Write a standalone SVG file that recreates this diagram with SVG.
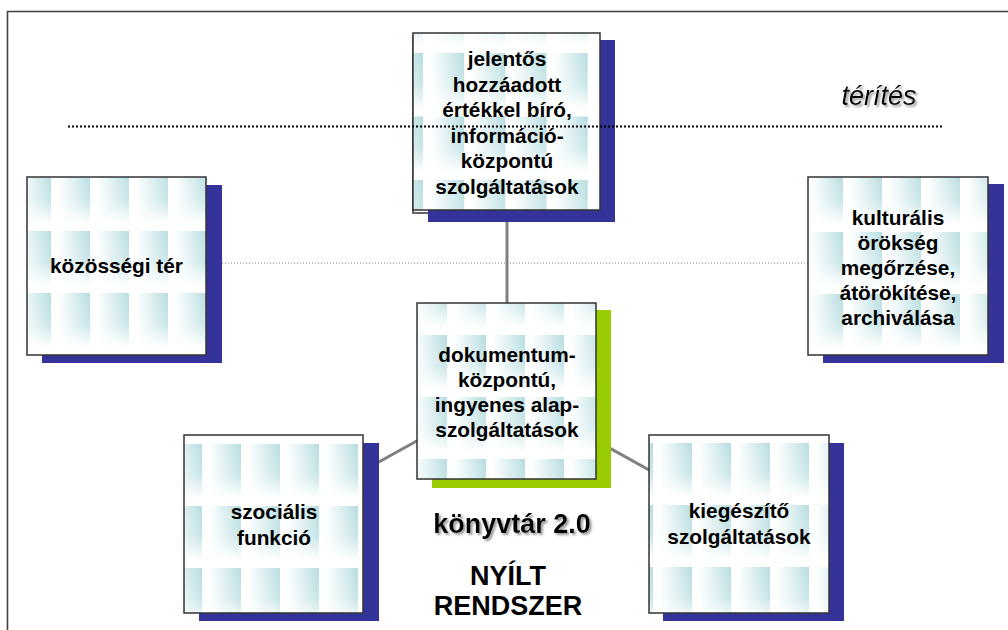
<svg xmlns="http://www.w3.org/2000/svg" xmlns:xlink="http://www.w3.org/1999/xlink" width="1008" height="630" viewBox="0 0 1008 630">
<style>
.card{stroke:#333;stroke-width:1.5}
.sh{fill:#333399}
.shg{fill:#99cc00}
.t{font-family:"Liberation Sans",Arial,sans-serif;font-weight:bold;font-size:20.8px;fill:#000;text-anchor:middle}
.big{font-family:"Liberation Sans",Arial,sans-serif;font-weight:bold;font-size:27px;fill:#000;text-anchor:middle}
.it{font-family:"Liberation Sans",Arial,sans-serif;font-style:italic;font-size:27px;fill:#000;text-anchor:middle}
.con{stroke:#808080;stroke-width:3;fill:none}
</style>
<defs>
<linearGradient id="gh" x1="0" y1="0" x2="1" y2="0">
<stop offset="0" stop-color="#fff"/>
<stop offset="0.2" stop-color="#fdfefe"/>
<stop offset="1" stop-color="#b7dde0"/>
</linearGradient>
<linearGradient id="gv" x1="0" y1="0" x2="0" y2="1">
<stop offset="0" stop-color="#fff" stop-opacity="0"/>
<stop offset="0.5" stop-color="#fff" stop-opacity="0.25"/>
<stop offset="0.88" stop-color="#fff" stop-opacity="1"/>
<stop offset="1" stop-color="#fff" stop-opacity="1"/>
</linearGradient>
<pattern id="tile" patternUnits="userSpaceOnUse" width="39" height="62">
<rect width="39" height="62" fill="url(#gh)"/>
<rect width="39" height="62" fill="url(#gv)"/>
</pattern>
<pattern id="pL" xlink:href="#tile" x="51" y="169"/>
<pattern id="pT" xlink:href="#tile" patternTransform="translate(423,53) scale(1.056,1.024)"/>
<pattern id="pR" xlink:href="#tile" x="843" y="170"/>
<pattern id="pC" xlink:href="#tile" x="447" y="273"/>
<pattern id="pBL" xlink:href="#tile" x="202" y="444"/>
<pattern id="pBR" xlink:href="#tile" x="653" y="443"/>
<filter id="ds" x="-10%" y="-20%" width="130%" height="160%">
<feDropShadow dx="2" dy="2" stdDeviation="0.8" flood-color="#9a9a9a" flood-opacity="1"/>
</filter>
</defs>

<rect width="1008" height="630" fill="#fff"/>
<path d="M7.5,630 V11.5 H1008" fill="none" stroke="#404040" stroke-width="1.6"/>

<g id="connectors">
<line class="con" x1="507" y1="210" x2="507" y2="391"/>
<line class="con" x1="274" y1="520" x2="507" y2="391"/>
<line class="con" x1="739" y1="520" x2="507" y2="391"/>
<line x1="222" y1="263" x2="808" y2="263" stroke="#808080" stroke-width="1" stroke-dasharray="1 2"/>
</g>

<g id="node-top">
<rect class="card" x="413" y="36" width="184" height="177" fill="#fff"/>
<rect class="sh" x="428" y="40" width="187" height="182"/>
<rect class="card" x="413" y="33" width="187" height="177" fill="url(#pT)"/>
<text class="t" x="507" y="66">jelentős</text>
<text class="t" x="507" y="91.5">hozzáadott</text>
<text class="t" x="507" y="117">értékkel bíró,</text>
<text class="t" x="507" y="142.5">információ-</text>
<text class="t" x="507" y="168">központú</text>
<text class="t" x="507" y="193.5">szolgáltatások</text>
</g>

<g id="node-left">
<rect class="sh" x="42" y="185" width="180" height="178"/>
<rect class="card" x="27" y="177" width="179" height="178" fill="url(#pL)"/>
<text class="t" x="116.5" y="273">közösségi tér</text>
</g>

<g id="node-right">
<rect class="sh" x="823" y="184" width="181" height="179"/>
<rect class="card" x="808" y="177" width="180" height="178" fill="url(#pR)"/>
<text class="t" x="898" y="225">kulturális</text>
<text class="t" x="898" y="250">örökség</text>
<text class="t" x="898" y="275">megőrzése,</text>
<text class="t" x="898" y="300">átörökítése,</text>
<text class="t" x="898" y="325">archiválása</text>
</g>

<g id="node-center">
<rect class="shg" x="432" y="310" width="179" height="178"/>
<rect class="card" x="417" y="303" width="179" height="176" fill="url(#pC)"/>
<text class="t" x="507" y="362">dokumentum-</text>
<text class="t" x="507" y="387">központú,</text>
<text class="t" x="507" y="412">ingyenes alap-</text>
<text class="t" x="507" y="437">szolgáltatások</text>
</g>

<g id="node-bottom-left">
<rect class="sh" x="199" y="443" width="180" height="178"/>
<rect class="card" x="184" y="435" width="179" height="178" fill="url(#pBL)"/>
<text class="t" x="274" y="519">szociális</text>
<text class="t" x="274" y="545">funkció</text>
</g>

<g id="node-bottom-right">
<rect class="sh" x="663" y="443" width="181" height="178"/>
<rect class="card" x="649" y="435" width="180" height="178" fill="url(#pBR)"/>
<text class="t" x="739" y="518">kiegészítő</text>
<text class="t" x="739" y="544">szolgáltatások</text>
</g>

<g id="separator">
<line x1="68" y1="126.5" x2="944" y2="126.5" stroke="#000" stroke-width="2" stroke-dasharray="2 2"/>
</g>

<g id="labels">
<text class="it" x="879" y="105" filter="url(#ds)">térítés</text>
<text class="big" x="512" y="533" filter="url(#ds)">könyvtár 2.0</text>
<text class="big" x="508" y="585">NYÍLT</text>
<text class="big" x="508" y="615">RENDSZER</text>
</g>
</svg>
